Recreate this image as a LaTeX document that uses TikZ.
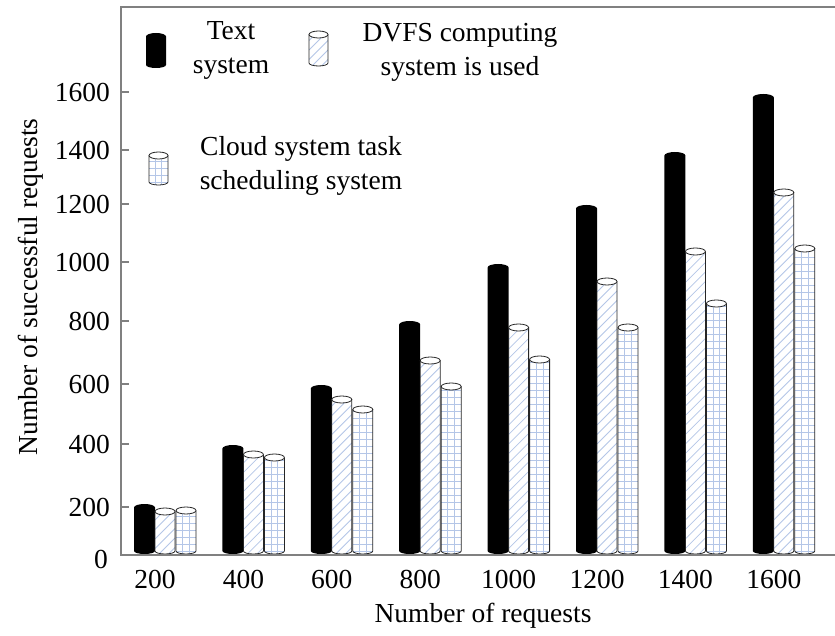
\documentclass[tikz,border=0pt]{standalone}
\usepackage{fontspec}
\setmainfont{Liberation Serif}
\definecolor{axisgray}{HTML}{808080}
\definecolor{hatchblue}{HTML}{B4C6E7}

\tikzset{
  axisline/.style={draw=axisgray, line width=1.5pt},
  tickmark/.style={draw=axisgray, line width=1.3pt},
  ticklab/.style={anchor=east, inner sep=0pt},
  xlab/.style={anchor=center, inner sep=0pt},
  legtext/.style={align=center, inner sep=0pt},
  cyledge/.style={draw=black!85, line width=0.8pt},
  hatchline/.style={draw=hatchblue, line width=0.8pt},
}

% solid black cylinder: left x, width, top y, bottom y
\newcommand\solidcyl[4]{%
  \fill[black] (#1,#3-3.5) -- (#1,#4)
    arc[start angle=180,end angle=360,x radius=#2/2,y radius=3]
    -- ({#1+#2},#3-3.5)
    arc[start angle=0,end angle=180,x radius=#2/2,y radius=3.5] -- cycle;}

% open-topped cylinder outline and cap: left x, width, top y, bottom y
\newcommand\cylshell[4]{%
  \draw[cyledge] (#1,#3-3.5) -- (#1,#4)
    arc[start angle=180,end angle=360,x radius=#2/2,y radius=3]
    -- ({#1+#2},#3-3.5);
  \draw[cyledge, fill=white] ({#1+#2/2},#3-3.5) ellipse[x radius=#2/2, y radius=3.5];}

% cylinder body used as a clip region
\newcommand\cylclip[4]{%
  \clip (#1,#3-3.5) -- (#1,#4)
    arc[start angle=180,end angle=360,x radius=#2/2,y radius=3]
    -- ({#1+#2},#3-3.5) -- cycle;}

% diagonally hatched cylinder
\newcommand\diagcyl[4]{%
  \begin{scope}
    \cylclip{#1}{#2}{#3}{#4}
    \fill[white] (#1,#4-5) rectangle ({#1+#2},#3);
    \foreach \hh in {0,9.5,...,600} {
      \draw[hatchline] (#1,#4-#2-6+\hh) -- ++(#2,#2);
    }
  \end{scope}
  \cylshell{#1}{#2}{#3}{#4}}

% grid-hatched cylinder
\newcommand\gridcyl[4]{%
  \begin{scope}
    \cylclip{#1}{#2}{#3}{#4}
    \fill[white] (#1,#4-5) rectangle ({#1+#2},#3);
    \foreach \hh in {0,7,...,600} {
      \draw[hatchline] (#1,#4+\hh) -- ++(#2,0);
    }
    \draw[hatchline] ({#1+#2/3},#4-5) -- ({#1+#2/3},#3);
    \draw[hatchline] ({#1+2*#2/3},#4-5) -- ({#1+2*#2/3},#3);
  \end{scope}
  \cylshell{#1}{#2}{#3}{#4}}

\begin{document}
\begin{tikzpicture}[x=1pt, y=1pt, font=\fontsize{27.5}{34}\selectfont]
\useasboundingbox (0,0) rectangle (835,635);

% bars: tops of the Text, DVFS and Cloud series in each group
\foreach \i/\vt/\vd/\vc in {0/131/127/128, 1/190/184/181, 2/250/239/229,
    3/314/278/252, 4/371/311/279, 5/430/357/311, 6/483/387/335, 7/541/446/390} {
  \pgfmathsetmacro\xb{155+88.4*\i}
  \pgfmathtruncatemacro\lab{200*(\i+1)}
  \solidcyl{\xb-21}{21}{\vt}{84}
  \diagcyl{\xb}{20}{\vd}{84}
  \gridcyl{\xb+21}{20}{\vc}{84}
  \node[xlab] (xl\i) at (\xb,56) {\lab};
}

% axes frame
\coordinate (o) at (121,80);
\coordinate (tl) at (121,628);
\coordinate (br) at (835,80);
\coordinate (tr) at (835,628);
\draw[axisline] (tr) -- (tl) -- (o) -- (br);

% y ticks and labels
\foreach \v/\yy in {200/128, 400/191, 600/251, 800/314, 1000/373, 1200/431, 1400/485, 1600/543} {
  \draw[tickmark] (121,\yy) -- (129,\yy);
  \node[ticklab] (yl\v) at (110,\yy) {\v};
}
\node[ticklab] (yl0) at (108,76) {0};

% axis titles
\node[inner sep=0pt] (xtitle) at (483,19) {Number of requests};
\node[inner sep=0pt, rotate=90] (ytitle) at (31,348) {Number of successful requests};

% legend
\solidcyl{146}{20}{602}{570}
\node[legtext] (legA) at (231,585) {Text\\system};
\diagcyl{309}{19}{604}{572}
\node[legtext] (legB) at (460,583) {DVFS computing\\system is used};
\gridcyl{149}{19}{483}{453}
\node[legtext] (legC) at (301,469) {Cloud system task\\scheduling system};
\end{tikzpicture}
\end{document}
